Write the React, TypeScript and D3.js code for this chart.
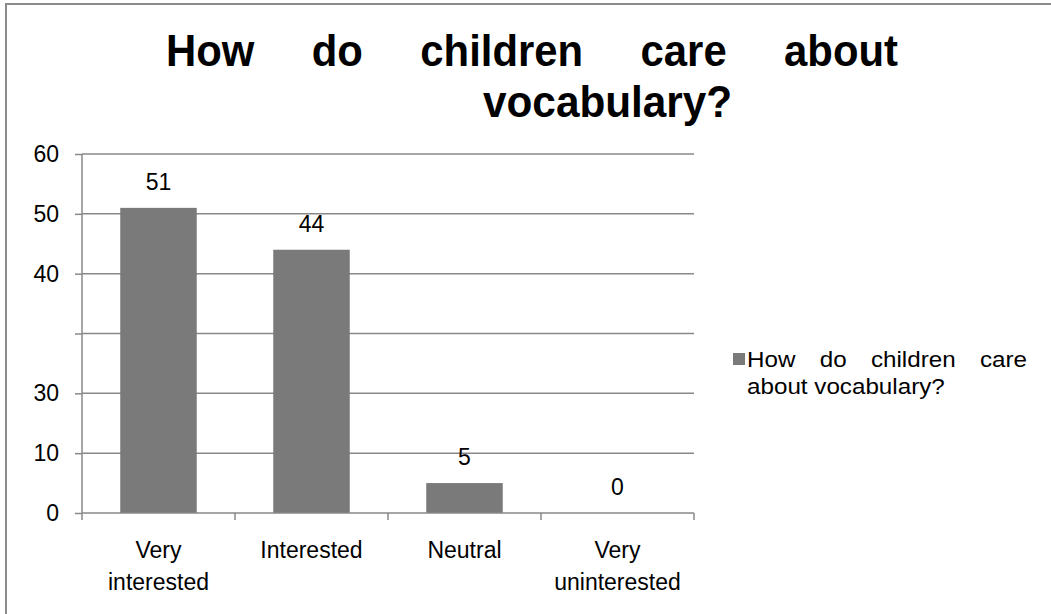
import React, { useEffect, useRef } from "react";
import * as d3 from "d3";

const categories: string[] = ["Very interested", "Interested", "Neutral", "Very uninterested"];
const values: number[] = [51, 44, 5, 0];
const yTickValues: number[] = [0, 10, 20, 30, 40, 50, 60];
const yTickLabels: string[] = ["0", "10", "30", "", "40", "50", "60"];
const titleLines: string[] = ["How do children care about", "vocabulary?"];
const legendLines: string[] = ["How do children care", "about vocabulary?"];

const W = 1051;
const H = 614;
const FONT = "'Liberation Sans', Arial, sans-serif";

type Sel = d3.Selection<SVGTextElement, unknown, null, undefined>;

export default function App() {
  const ref = useRef<SVGSVGElement | null>(null);

  useEffect(() => {
    const svg = d3.select(ref.current);
    svg.selectAll("*").remove();

    const plot = { left: 82, right: 694, top: 154, bottom: 513 };
    const x = d3.scaleBand<string>().domain(categories).range([plot.left, plot.right]).paddingInner(0.5).paddingOuter(0.25);
    const xb = d3.scaleBand<string>().domain(categories).range([plot.left, plot.right]);
    const y = d3.scaleLinear().domain([0, 60]).range([plot.bottom, plot.top]);
    const grid = "#888888";

    const stretch = (n: Sel, f: number) => {
      const w = (n.node() as SVGTextElement).getComputedTextLength();
      n.attr("textLength", w * f).attr("lengthAdjust", "spacingAndGlyphs");
      return w * f;
    };

    // frame
    svg.append("path").attr("d", `M6,${H + 5} V4 H${W + 5}`).attr("fill", "none").attr("stroke", "#8c8c8c").attr("stroke-width", 2);

    // justified line
    const justify = (g: d3.Selection<SVGGElement, unknown, null, undefined>, text: string, x0: number, x1: number, yb: number, size: number, weight: string, f: number) => {
      const words = text.split(" ");
      const nodes = words.map((w) =>
        g.append("text").attr("y", yb).attr("font-family", FONT).attr("font-size", size).attr("font-weight", weight).attr("fill", "#000").text(w) as unknown as Sel
      );
      const widths = nodes.map((n) => stretch(n, f));
      const gap = (x1 - x0 - d3.sum(widths)) / Math.max(1, words.length - 1);
      let cx = x0;
      nodes.forEach((n, i) => {
        n.attr("x", cx);
        cx += widths[i] + gap;
      });
    };

    const tg = svg.append("g");
    justify(tg, titleLines[0], 166, 898, 66, 45, "bold", 0.93);
    const t2 = tg.append("text").attr("x", 483).attr("y", 117).attr("font-family", FONT).attr("font-size", 45).attr("font-weight", "bold").text(titleLines[1]) as unknown as Sel;
    stretch(t2, 0.94);

    // gridlines
    svg.append("g").selectAll("line").data(yTickValues.filter((v) => v !== 0)).join("line")
      .attr("x1", plot.left).attr("x2", plot.right).attr("y1", (d) => y(d)).attr("y2", (d) => y(d))
      .attr("stroke", grid).attr("stroke-width", 1.5);

    // y axis
    const yAxis = d3.axisLeft(y).tickValues(yTickValues).tickSize(7).tickFormat((_d, i) => yTickLabels[i]);
    const ya = svg.append("g").attr("transform", `translate(${plot.left},0)`).call(yAxis);
    ya.select(".domain").attr("stroke", grid).attr("stroke-width", 1.5).attr("d", `M0,${plot.bottom}V${plot.top}`);
    ya.selectAll(".tick line").attr("stroke", grid).attr("stroke-width", 1.5);
    ya.selectAll(".tick text").attr("x", -23).attr("font-family", FONT).attr("font-size", 23).attr("fill", "#000");

    // bars
    svg.append("g").selectAll("rect").data(values).join("rect")
      .attr("x", (_d, i) => x(categories[i])!)
      .attr("width", x.bandwidth())
      .attr("y", (d) => y(d))
      .attr("height", (d) => plot.bottom - y(d))
      .attr("fill", "#7a7a7a");

    // x axis
    const xaG = svg.append("g").attr("transform", `translate(0,${plot.bottom})`);
    xaG.append("line").attr("x1", plot.left).attr("x2", plot.right).attr("stroke", grid).attr("stroke-width", 1.5);
    const bounds = [...categories.map((c) => xb(c)!), plot.right];
    xaG.selectAll("line.t").data(bounds).join("line").attr("class", "t")
      .attr("x1", (d) => d).attr("x2", (d) => d).attr("y1", 0).attr("y2", 7)
      .attr("stroke", grid).attr("stroke-width", 1.5);

    // category labels
    categories.forEach((c) => {
      const cx = xb(c)! + xb.bandwidth() / 2;
      const parts = c.includes(" ") ? c.split(" ") : [c];
      const t = svg.append("text").attr("text-anchor", "middle").attr("font-family", FONT).attr("font-size", 23).attr("fill", "#000");
      parts.forEach((p, i) => {
        t.append("tspan").attr("x", cx).attr("y", 558 + i * 32).text(p);
      });
    });

    // value labels
    svg.append("g").selectAll("text").data(values).join("text")
      .attr("x", (_d, i) => x(categories[i])! + x.bandwidth() / 2)
      .attr("y", (d) => y(d) - 18)
      .attr("text-anchor", "middle").attr("font-family", FONT).attr("font-size", 23).attr("fill", "#000")
      .text((d) => String(d));

    // legend
    const lg = svg.append("g");
    lg.append("rect").attr("x", 733).attr("y", 353).attr("width", 12).attr("height", 12).attr("fill", "#7a7a7a");
    justify(lg, legendLines[0], 747, 1027, 367, 22, "normal", 1.1);
    const l2 = lg.append("text").attr("x", 747).attr("y", 394).attr("font-family", FONT).attr("font-size", 22).attr("fill", "#000").text(legendLines[1]) as unknown as Sel;
    stretch(l2, 1.1);
  }, []);

  return (
    <div style={{ position: "fixed", left: 0, top: 0 }}>
      <svg ref={ref} width={W} height={H} style={{ display: "block", background: "#fff" }} />
    </div>
  );
}
